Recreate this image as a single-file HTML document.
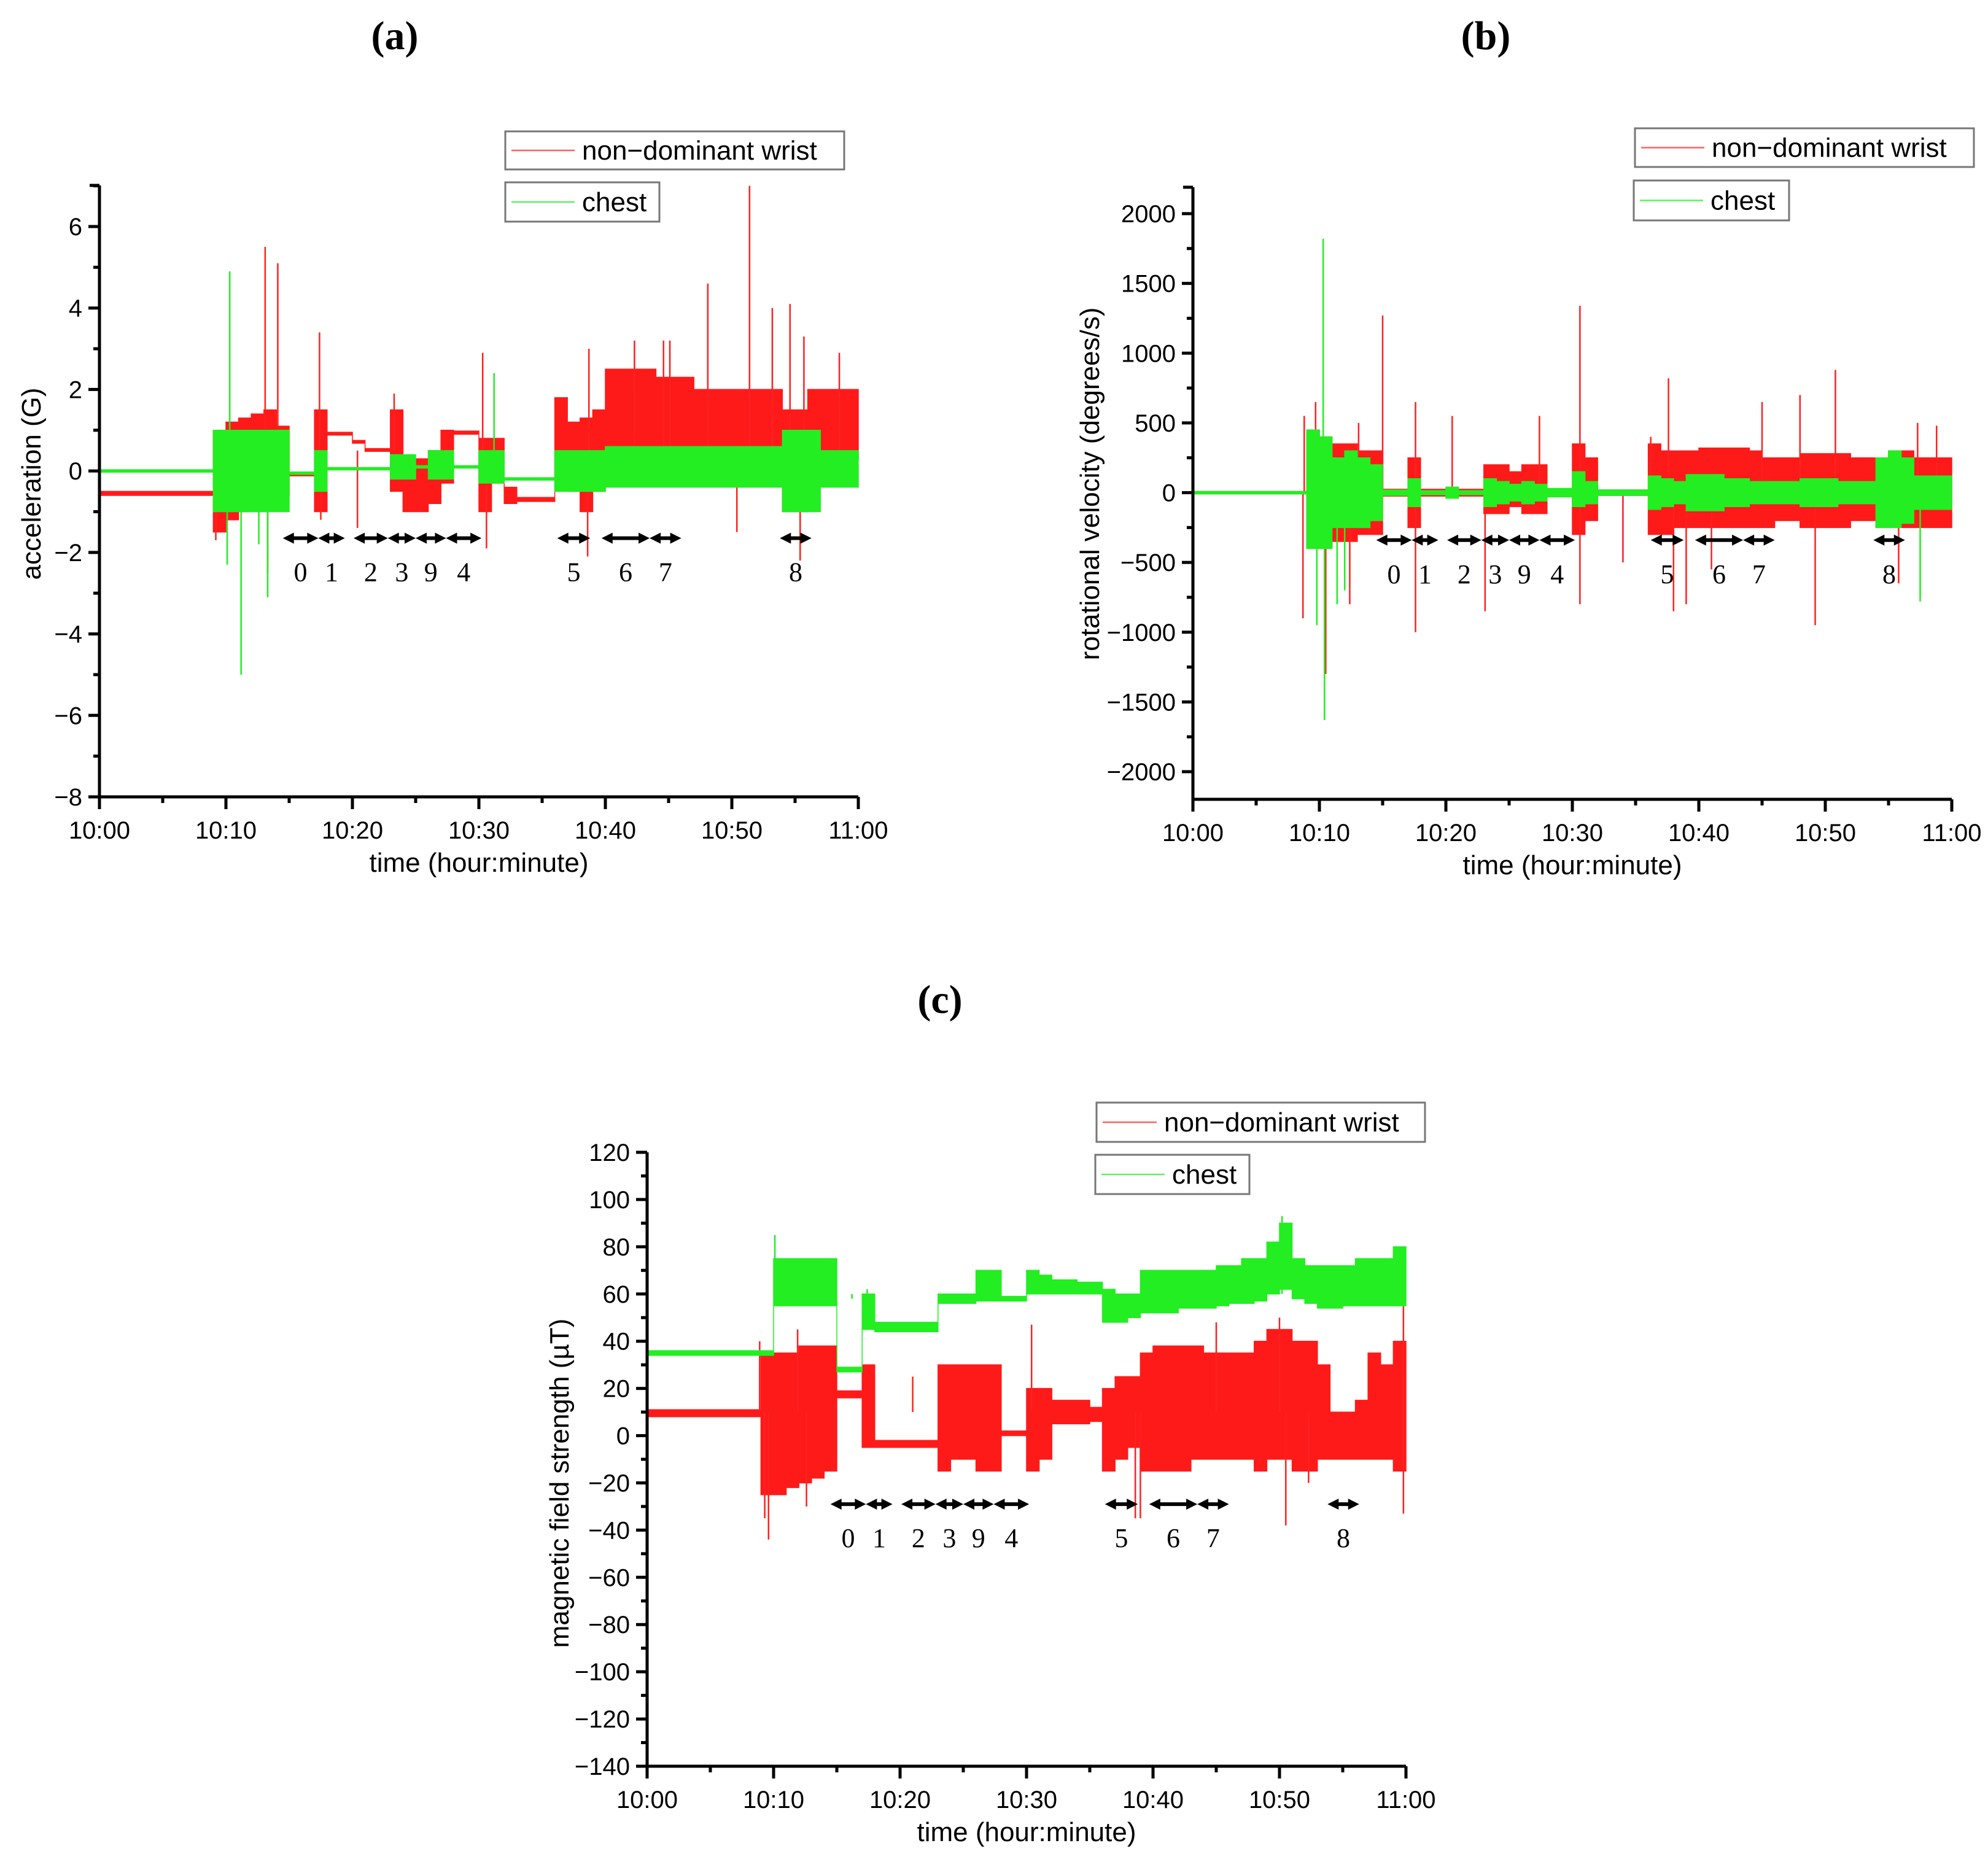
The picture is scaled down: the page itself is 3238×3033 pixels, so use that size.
<!DOCTYPE html>
<html><head><meta charset="utf-8"><style>
html,body{margin:0;padding:0;background:#fff}
svg{display:block}
text{font-family:"Liberation Sans",sans-serif;fill:#000}
.t{font-family:"Liberation Serif",serif;font-weight:bold;font-size:66px}
.n{font-family:"Liberation Serif",serif;font-size:44px}
</style></head><body>
<svg id="fig" width="3238" height="3033" viewBox="0 0 3238 3033" xmlns="http://www.w3.org/2000/svg"></svg>
<script>
// ---- data (minute bins 0..59) ----
const minutesA = [...Array(60).keys()];
const accWristLo = [-0.6,-0.6,-0.6,-0.6,-0.6,-0.6,-0.6,-0.6,-0.6,-1.5,-1.2,-1,-0.8,-0.9,-0.6,-0.12,-0.12,-1,0.88,0.88,0.68,0.48,0.48,-0.5,-1,-1,-0.8,-0.3,0.9,0.9,-1,-0.3,-0.8,-0.75,-0.75,-0.75,-0.3,-0.5,-1,-0.5,0.3,0.3,0.3,0.3,0.3,0.3,0.3,0.2,0.2,0.2,0.2,0.3,0.3,0.3,-1,-1,0.3,0.3,0.3,0.3];
const accWristHi = [-0.5,-0.5,-0.5,-0.5,-0.5,-0.5,-0.5,-0.5,-0.5,1.0,1.2,1.3,1.4,1.5,1.1,-0.06,-0.06,1.5,0.95,0.95,0.75,0.55,0.55,1.5,0.3,0.3,0.5,1.0,0.98,0.98,0.8,0.8,-0.4,-0.65,-0.65,-0.65,1.8,1.2,1.3,1.5,2.5,2.5,2.5,2.5,2.3,2.3,2.3,2,2,2,2,2,2,2,1.5,1.5,2,2,2,2];
const accChestLo = [-0.02,-0.02,-0.02,-0.02,-0.02,-0.02,-0.02,-0.02,-0.02,-1,-1,-1,-1,-1,-1,-0.08,-0.08,-0.5,0.03,0.03,0.03,0.03,0.03,-0.2,-0.2,0.07,-0.2,-0.2,0.07,0.07,-0.3,-0.3,-0.22,-0.22,-0.22,-0.22,-0.5,-0.5,-0.5,-0.5,-0.4,-0.4,-0.4,-0.4,-0.4,-0.4,-0.4,-0.4,-0.4,-0.4,-0.4,-0.4,-0.4,-0.4,-1,-1,-1,-0.4,-0.4,-0.4];
const accChestHi = [0.02,0.02,0.02,0.02,0.02,0.02,0.02,0.02,0.02,1,1,1,1,1,1,-0.03,-0.03,0.5,0.08,0.08,0.08,0.08,0.08,0.4,0.4,0.13,0.5,0.5,0.13,0.13,0.5,0.5,-0.17,-0.17,-0.17,-0.17,0.5,0.5,0.5,0.5,0.6,0.6,0.6,0.6,0.6,0.6,0.6,0.6,0.6,0.6,0.6,0.6,0.6,0.6,1,1,1,0.5,0.5,0.5];
const accWristSpikes = [[9.2,-1.7],[13.1,5.5],[13.3,-2.5],[14.1,5.1],[17.4,3.4],[17.5,-1.2],[20.4,-1.4],[23.3,1.9],[30.3,2.9],[30.6,-1.9],[38.7,3.0],[38.6,-2.1],[42.3,3.2],[44.6,3.2],[45.1,3.2],[48.1,4.6],[50.4,-1.5],[51.4,7.0],[53.2,4.0],[54.6,4.1],[55.7,3.3],[55.4,-2.2],[58.5,2.9]];
const accChestSpikes = [[10.3,4.9],[11.2,-5.0],[13.3,-3.1],[10.1,-2.3],[12.6,-1.8],[31.2,2.4]];

const rotWristLo = [0,0,0,0,0,0,0,0,0,-400,-400,-350,-350,-300,-300,-25,-25,-250,-25,-25,-25,-25,-25,-150,-150,-100,-150,-150,-10,-10,-300,-200,-20,-20,-20,-20,-300,-300,-250,-250,-250,-250,-250,-250,-250,-250,-200,-200,-250,-250,-250,-250,-200,-200,-250,-250,-250,-250,-250,-250];
const rotWristHi = [0,0,0,0,0,0,0,0,0,450,400,350,350,300,300,25,25,250,25,25,25,25,25,200,200,150,200,200,20,20,350,250,20,20,20,20,350,300,300,300,320,320,320,320,300,250,250,250,280,280,280,280,250,250,250,300,300,250,250,250];
const rotChestLo = [-3,-3,-3,-3,-3,-3,-3,-3,-3,-400,-400,-250,-250,-250,-200,-20,-20,-100,-15,-15,-40,-15,-15,-100,-80,-60,-80,-60,-30,-30,-100,-80,-20,-20,-20,-20,-120,-100,-80,-130,-130,-130,-100,-100,-80,-80,-80,-80,-100,-100,-100,-80,-80,-80,-250,-250,-220,-120,-120,-120];
const rotChestHi = [3,3,3,3,3,3,3,3,3,450,400,250,300,250,200,20,20,100,15,15,40,15,15,100,80,60,80,60,30,30,150,80,20,20,20,20,120,100,80,130,130,130,100,100,80,80,80,80,100,100,100,80,80,80,250,300,250,120,120,120];
const rotWristSpikes = [[8.7,-900],[8.8,550],[9.7,650],[10.5,-1300],[12.4,-800],[13.1,500],[15.0,1270],[17.6,-1000],[17.6,650],[20.5,550],[23.1,-850],[27.4,550],[30.6,1340],[30.6,-800],[34.0,-500],[36.2,400],[38.0,-850],[37.6,820],[39.0,-800],[41.0,-550],[45.0,650],[49.2,-950],[50.8,880],[48.0,700],[55.8,-650],[57.3,500],[58.8,480]];
const rotChestSpikes = [[10.3,1820],[10.4,-1630],[9.8,-950],[11.4,-800],[12.0,-700],[57.5,-780]];

const magWristLo = [8,8,8,8,8,8,8,8,8,-25,-25,-22,-20,-18,-15,16,16,-5,-5,-5,-5,-5,-5,-15,-10,-10,-15,-15,0,0,-15,-10,5,5,5,6,-15,-10,-5,-15,-15,-15,-15,-10,-10,-10,-10,-10,-15,-10,-10,-15,-15,-10,-10,-10,-10,-10,-10,-15];
const magWristHi = [11,11,11,11,11,11,11,11,11,35,35,35,38,38,38,19,19,30,-2,-2,-2,-2,-2,30,30,30,30,30,2,2,20,20,15,15,15,12,20,25,25,35,38,38,38,38,35,35,35,35,40,45,45,40,40,30,10,10,15,35,30,40];
const magChestLo = [34,34,34,34,34,34,34,34,34,34,55,55,55,55,55,27,27,45,44,44,44,44,44,56,56,56,57,57,57,57,60,60,60,60,60,60,48,48,50,52,52,52,54,54,54,55,56,56,57,60,62,58,56,54,54,55,55,55,55,55];
const magChestHi = [36,36,36,36,36,36,36,36,36,36,75,75,75,75,75,29,29,60,48,48,48,48,48,60,60,60,70,70,59,59,70,68,66,66,65,65,62,60,60,70,70,70,70,70,70,72,72,75,75,82,90,75,72,72,72,72,75,75,75,80];
const magWristSpikes = [[9.6,-44],[8.9,40],[9.3,-35],[11.9,45],[12.6,-30],[21.0,25],[30.4,47],[38.6,-35],[39.0,-35],[45.0,48],[50.5,-38],[50.0,50],[52.3,-20],[59.8,-33],[59.8,62]];
const magChestSpikes = [[10.1,85],[50.2,93],[16.2,58],[17.4,62]];

const segStart = [14.5,17.3,20.1,22.8,25.0,27.4,36.2,39.7,43.5,53.8];
const segEnd   = [17.3,19.4,22.8,25.0,27.4,30.2,38.8,43.5,46.0,56.3];
const segLabels = ['0','1','2','3','9','4','5','6','7','8'];

const svg = document.getElementById('fig');
const NS = 'http://www.w3.org/2000/svg';
function mk(tag, attrs, parent){const e=document.createElementNS(NS,tag);for(const k in attrs)e.setAttribute(k,attrs[k]);(parent||svg).appendChild(e);return e;}

function chart(cfg){
  const g = mk('g',{});
  
  
  const X = t => cfg.x0 + (cfg.x1-cfg.x0)*t/60;
  const Y = v => cfg.y0 + (cfg.yb-cfg.y0)*(v-cfg.vmin0)/(cfg.vminB-cfg.vmin0);
  function band(lo,hi,color,name){
    let top='',bot='';
    for(let i=0;i<lo.length;i++){
      let a=Y(hi[i]),b=Y(lo[i]); if(b-a<4){const m=(a+b)/2;a=m-2;b=m+2;}
      top+=`L${X(i)},${a}L${X(i+1)},${a}`;
      bot=`L${X(i+1)},${b}L${X(i)},${b}`+bot;
    }
    const p=mk('path',{d:'M'+top.slice(1)+bot+'Z',fill:color,stroke:color,'stroke-width':1.5},g);
    
    
  }
  function spikes(arr,mid,color,name){
    const sg=mk('g',{},g);
    
    
    arr.forEach(s=>{mk('line',{x1:X(s[0]),x2:X(s[0]),y1:Y(mid),y2:Y(s[1]),stroke:color,'stroke-width':2.5},sg);});
  }
  band(cfg.wLo,cfg.wHi,'#ff1a1a','wrist-series');
  spikes(cfg.wSp,cfg.wMid,'#ff2020','wrist-spikes');
  band(cfg.cLo,cfg.cHi,'#22ee22','chest-series');
  spikes(cfg.cSp,cfg.cMid,'#22ee22','chest-spikes');
  const ax=mk('g',{stroke:'#000','stroke-width':5,fill:'none'},g);
  
  
  mk('line',{x1:cfg.x0,x2:cfg.x0,y1:cfg.top,y2:cfg.bot+2},ax);
  mk('line',{x1:cfg.x0-2,x2:cfg.x1,y1:cfg.bot,y2:cfg.bot},ax);
  mk('line',{x1:cfg.x0-16,x2:cfg.x0,y1:cfg.top,y2:cfg.top},ax);
  for(let m=0;m<=60;m+=5){const maj=m%10==0;mk('line',{x1:X(m),x2:X(m),y1:cfg.bot,y2:cfg.bot+(maj?20:10)},ax);
    if(maj){const t=mk('text',{x:X(m),y:cfg.bot+68,'font-size':40,'text-anchor':'middle'},g);t.textContent=(m==60?'11:00':'10:'+String(m).padStart(2,'0'));
      
      }}
  for(let v=cfg.tmin;v<=cfg.tmax+1e-9;v+=cfg.minor){const maj=Math.abs(Math.round((v-cfg.tmin)/cfg.major)*cfg.major-(v-cfg.tmin))<1e-6;
    mk('line',{x1:cfg.x0-(maj?18:10),x2:cfg.x0,y1:Y(v),y2:Y(v)},ax);
    if(maj){const t=mk('text',{x:cfg.x0-28,y:Y(v)+14,'font-size':40,'text-anchor':'end'},g);t.textContent=String(v).replace('-','\u2212');
      
      }}
  const xt=mk('text',{x:(cfg.x0+cfg.x1)/2,y:cfg.bot+122,'font-size':44,'text-anchor':'middle'},g);xt.textContent='time (hour:minute)';
  
  
  const yt=mk('text',{x:0,y:0,'font-size':44,'text-anchor':'middle',transform:`translate(${cfg.ytx},${cfg.yty}) rotate(-90)`},g);yt.textContent=cfg.ytitle;
  
  
  const ag=mk('g',{},g);
  
  
  for(let i=0;i<segStart.length;i++){
    const a=X(segStart[i]),b=X(segEnd[i]),y=Y(cfg.arrowV);
    mk('line',{x1:a+10,x2:b-10,y1:y,y2:y,stroke:'#000','stroke-width':6},ag);
    mk('path',{d:`M${a},${y}L${a+18},${y-9}L${a+18},${y+9}Z`,fill:'#000'},ag);
    mk('path',{d:`M${b},${y}L${b-18},${y-9}L${b-18},${y+9}Z`,fill:'#000'},ag);
    const t=mk('text',{x:(a+b)/2,y:Y(cfg.arrowV)+cfg.labOff,'text-anchor':'middle',class:'n'},ag);t.textContent=segLabels[i];
    
    
  }
  [[cfg.l1,'non\u2212dominant wrist','#ff6060','legend-wrist'],[cfg.l2,'chest','#60f060','legend-chest']].forEach(L=>{
    const r=L[0],lg=mk('g',{},g);
    
    
    mk('rect',{x:r[0],y:r[1],width:r[2],height:r[3],fill:'#fff',stroke:'#777','stroke-width':3},lg);
    mk('line',{x1:r[0]+10,x2:r[0]+r[4]-12,y1:r[1]+r[3]/2,y2:r[1]+r[3]/2,stroke:L[2],'stroke-width':2.5},lg);
    const t=mk('text',{x:r[0]+r[4],y:r[1]+r[3]/2+15,'font-size':44},lg);t.textContent=L[1];
  });
  const tt=mk('text',{x:cfg.tx,y:cfg.ty,'text-anchor':'middle',class:'t'},svg);tt.textContent=cfg.title;
  
  
}

chart({name:'chart-acceleration',x0:162,x1:1398,y0:369,yb:1298,vmin0:6,vminB:-8,top:302,bot:1298,tmin:-8,tmax:7,major:2,minor:1,
  wLo:accWristLo,wHi:accWristHi,cLo:accChestLo,cHi:accChestHi,wSp:accWristSpikes,cSp:accChestSpikes,wMid:0.5,cMid:0,
  ytitle:'acceleration (G)',ytx:66,yty:788,arrowV:-1.65,labOff:70,
  l1:[823,214,552,62,125],l2:[823,297,251,64,125],title:'(a)',tx:643,ty:80});
chart({name:'chart-rotational-velocity',x0:1943,x1:3179,y0:348,yb:1257,vmin0:2000,vminB:-2000,top:305,bot:1302,tmin:-2000,tmax:2000,major:500,minor:250,
  wLo:rotWristLo,wHi:rotWristHi,cLo:rotChestLo,cHi:rotChestHi,wSp:rotWristSpikes,cSp:rotChestSpikes,wMid:0,cMid:0,
  ytitle:'rotational velocity (degrees/s)',ytx:1790,yty:788,arrowV:-340,labOff:70,
  l1:[2663,209,552,63,125],l2:[2661,294,253,65,125],title:'(b)',tx:2420,ty:80});
chart({name:'chart-magnetic-field',x0:1054,x1:2290,y0:1877,yb:2877,vmin0:120,vminB:-140,top:1877,bot:2877,tmin:-140,tmax:120,major:20,minor:10,
  wLo:magWristLo,wHi:magWristHi,cLo:magChestLo,cHi:magChestHi,wSp:magWristSpikes,cSp:magChestSpikes,wMid:10,cMid:60,
  ytitle:'magnetic field strength (\u00b5T)',ytx:926,yty:2416,arrowV:-29,labOff:70,
  l1:[1786,1796,535,64,110],l2:[1784,1881,251,64,125],title:'(c)',tx:1531,ty:1650});
</script>
</body></html>
